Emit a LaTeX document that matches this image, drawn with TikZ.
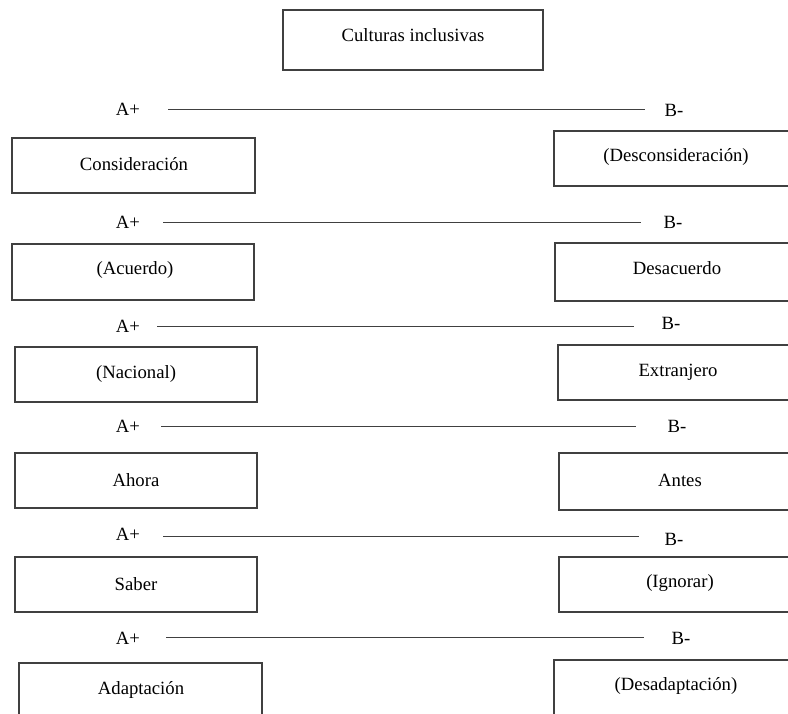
\documentclass[tikz,border=0pt]{standalone}
\usepackage{fontspec}
\setmainfont{Liberation Serif}
\begin{document}
\begin{tikzpicture}[x=1pt,y=-1pt,
  boxshape/.style={draw=black!75, line width=1.2pt},
  lbl/.style={inner sep=0pt, font=\fontsize{18.7}{21}\selectfont, text=black},
  link/.style={draw=black!75, line width=1pt}]
\useasboundingbox (0,0) rectangle (788,713);
\clip (0,0) rectangle (788,713);
\fill[white] (0,0) rectangle (788,713);
% title
\draw[boxshape] (283,10) rectangle (543,70);
\node[lbl] (title) at (413,35) {Culturas inclusivas};
% rows of A+ / B-
\node[lbl] (a1) at (128,109) {A+};
\node[lbl] (b1) at (674,110) {B-};
\coordinate (s1) at (168,109); \coordinate (e1) at (645,109);
\draw[link] (s1) -- (e1);
\node[lbl] (a2) at (128,222) {A+};
\node[lbl] (b2) at (673,222) {B-};
\coordinate (s2) at (163,222); \coordinate (e2) at (641,222);
\draw[link] (s2) -- (e2);
\node[lbl] (a3) at (128,326) {A+};
\node[lbl] (b3) at (671,323) {B-};
\coordinate (s3) at (157,326); \coordinate (e3) at (634,326);
\draw[link] (s3) -- (e3);
\node[lbl] (a4) at (128,426) {A+};
\node[lbl] (b4) at (677,426) {B-};
\coordinate (s4) at (161,426); \coordinate (e4) at (636,426);
\draw[link] (s4) -- (e4);
\node[lbl] (a5) at (128,534) {A+};
\node[lbl] (b5) at (674,539) {B-};
\coordinate (s5) at (163,536); \coordinate (e5) at (639,536);
\draw[link] (s5) -- (e5);
\node[lbl] (a6) at (128,638) {A+};
\node[lbl] (b6) at (681,638) {B-};
\coordinate (s6) at (166,637); \coordinate (e6) at (644,637);
\draw[link] (s6) -- (e6);
% left boxes
\draw[boxshape] (12,138) rectangle (255,193);
\node[lbl] (l1) at (134,164) {Consideración};
\draw[boxshape] (12,244) rectangle (254,300);
\node[lbl] (l2) at (135,270) {(Acuerdo)};
\draw[boxshape] (15,347) rectangle (257,402);
\node[lbl] (l3) at (136,374) {(Nacional)};
\draw[boxshape] (15,453) rectangle (257,508);
\node[lbl] (l4) at (136,480) {Ahora};
\draw[boxshape] (15,557) rectangle (257,612);
\node[lbl] (l5) at (136,584) {Saber};
\draw[boxshape] (19,663) rectangle (262,730);
\node[lbl] (l6) at (141,690) {Adaptación};
% right boxes (cut by the right edge)
\draw[boxshape] (554,131) rectangle (800,186);
\node[lbl] (r1) at (676,157) {(Desconsideración)};
\draw[boxshape] (555,243) rectangle (800,301);
\node[lbl] (r2) at (677,268) {Desacuerdo};
\draw[boxshape] (558,345) rectangle (800,400);
\node[lbl] (r3) at (678,372) {Extranjero};
\draw[boxshape] (559,453) rectangle (800,510);
\node[lbl] (r4) at (680,480) {Antes};
\draw[boxshape] (559,557) rectangle (800,612);
\node[lbl] (r5) at (680,583) {(Ignorar)};
\draw[boxshape] (554,660) rectangle (800,730);
\node[lbl] (r6) at (676,686) {(Desadaptación)};
\end{tikzpicture}
\end{document}
